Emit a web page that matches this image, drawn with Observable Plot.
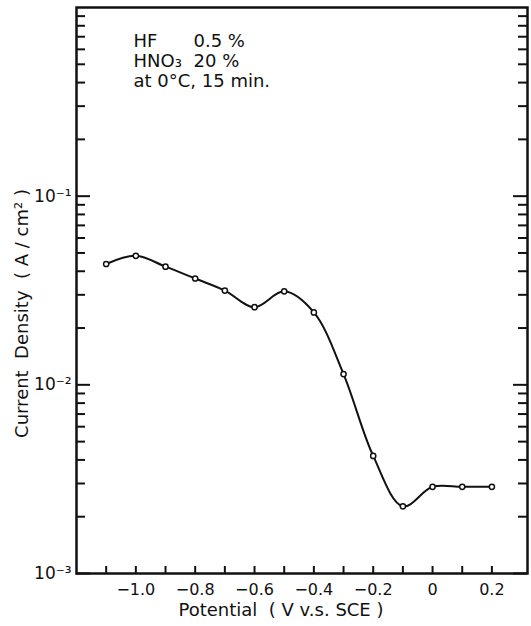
<!DOCTYPE html>
<html>
<head>
<meta charset="utf-8">
<script src="https://cdn.jsdelivr.net/npm/d3@7"></script>
<script src="https://cdn.jsdelivr.net/npm/@observablehq/plot@0.6"></script>
<style>
  html, body { margin: 0; padding: 0; background: #fff; }
  svg { display: block; }
</style>
</head>
<body>
<div id="chart"></div>
<script>
// Data
const potential = [-1.1, -1.0, -0.9, -0.8, -0.7, -0.6, -0.5, -0.4, -0.3, -0.2, -0.1, 0.0, 0.1, 0.2];
const currentDensity = [0.0437, 0.0483, 0.0423, 0.0366, 0.0316, 0.0258, 0.0313, 0.0242, 0.0114, 0.0042, 0.00227, 0.00288, 0.00288, 0.00288];

const xMinorTicks = [-1.1, -1.0, -0.9, -0.8, -0.7, -0.6, -0.5, -0.4, -0.3, -0.2, -0.1, 0.0, 0.1, 0.2];
const xLabelTicks = [-1.0, -0.8, -0.6, -0.4, -0.2, 0.0, 0.2];
const xTickLabels = ["−1.0", "−0.8", "−0.6", "−0.4", "−0.2", "0", "0.2"];
const yMajorTicks = [1e-3, 1e-2, 1e-1];
const yTickLabels = ["10⁻³", "10⁻²", "10⁻¹"];
const yMinorTicks = [2e-3,3e-3,4e-3,5e-3,6e-3,7e-3,8e-3,9e-3,2e-2,3e-2,4e-2,5e-2,6e-2,7e-2,8e-2,9e-2,2e-1,3e-1,4e-1,5e-1,6e-1,7e-1,8e-1,9e-1];

const xTitle = "Potential  ( V v.s. SCE )";
const yTitle = "Current  Density  ( A / cm² )";
const noteLeft = "HF\nHNO₃\nat 0°C, 15 min.";
const noteRight = "0.5 %\n20 %";

const data = potential.map((p, i) => ({p, j: currentDensity[i]}));
const font = "DejaVu Sans, sans-serif";

const WIDTH = 531, HEIGHT = 626;
const M = {left: 76, right: 4, top: 7, bottom: 53};
const frameW = WIDTH - M.left - M.right;
const frameH = HEIGHT - M.top - M.bottom;
const majorLen = 14, minorLen = 9, xTickLen = 7;
const ink = "#111111";

const chart = Plot.plot({
  width: WIDTH,
  height: HEIGHT,
  marginLeft: M.left,
  marginRight: M.right,
  marginTop: M.top,
  marginBottom: M.bottom,
  style: {fontFamily: font, fontSize: "16px", background: "#fff"},
  x: {domain: [-1.2, 0.32]},
  y: {type: "log", domain: [1e-3, 1]},
  marks: [
    // inward y ticks, both sides
    Plot.tickY(yMajorTicks, {y: d => d, insetRight: frameW - majorLen, stroke: ink, strokeWidth: 2}),
    Plot.tickY(yMinorTicks, {y: d => d, insetRight: frameW - minorLen, stroke: ink, strokeWidth: 2}),
    Plot.tickY(yMajorTicks, {y: d => d, insetLeft: frameW - majorLen, stroke: ink, strokeWidth: 2}),
    Plot.tickY(yMinorTicks, {y: d => d, insetLeft: frameW - minorLen, stroke: ink, strokeWidth: 2}),
    // inward x ticks
    Plot.tickX(xMinorTicks, {x: d => d, insetTop: frameH - xTickLen, stroke: ink, strokeWidth: 2}),
    // tick labels
    Plot.axisY(yMajorTicks, {anchor: "left", tickSize: 0, tickPadding: 5, tickFormat: (d) => yTickLabels[yMajorTicks.indexOf(d)], label: null, fontSize: 17, fill: ink}),
    Plot.axisX(xLabelTicks, {anchor: "bottom", tickSize: 0, tickPadding: 10, tickFormat: (d) => xTickLabels[xLabelTicks.indexOf(d)], label: null, fontSize: 16, fill: ink}),
    Plot.frame({stroke: ink, strokeWidth: 2.5}),
    // axis titles
    Plot.text([xTitle], {frameAnchor: "bottom", textAnchor: "middle", dx: -21, dy: 42, fontSize: 18, fill: ink}),
    Plot.text([yTitle], {frameAnchor: "left", textAnchor: "middle", rotate: -90, dx: -54, dy: 23, fontSize: 18, fill: ink}),
    // annotation
    Plot.text([noteLeft], {frameAnchor: "top-left", dx: 57, dy: 25, lineAnchor: "top", textAnchor: "start", fontSize: 18, lineHeight: 1.12, fill: ink}),
    Plot.text([noteRight], {frameAnchor: "top-left", dx: 117, dy: 25, lineAnchor: "top", textAnchor: "start", fontSize: 18, lineHeight: 1.12, fill: ink}),
    // curve
    Plot.line(data, {x: "p", y: "j", curve: "catmull-rom", stroke: ink, strokeWidth: 2}),
    Plot.dot(data, {x: "p", y: "j", r: 2.6, fill: "#fff", stroke: ink, strokeWidth: 1.5})
  ]
});
document.getElementById("chart").appendChild(chart);
</script>
</body>
</html>
